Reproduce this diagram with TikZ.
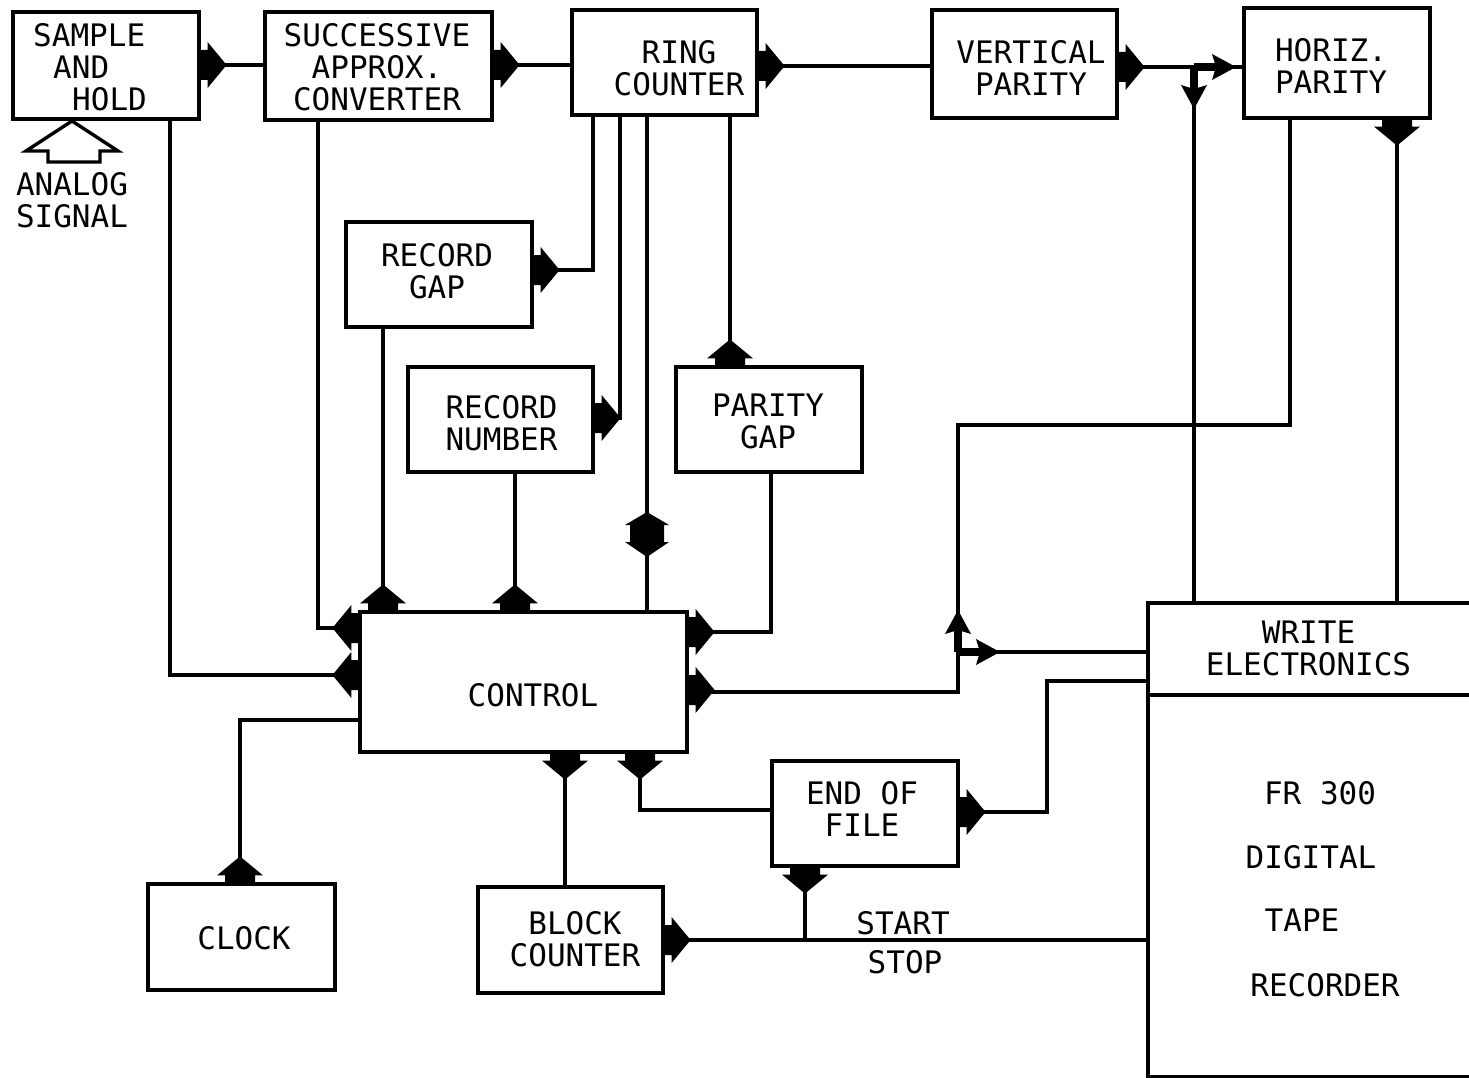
\documentclass[tikz,border=0pt]{standalone}
\usepackage{fontspec}
\setmainfont{DejaVu Sans Mono}
\usetikzlibrary{calc}
\begin{document}
\begin{tikzpicture}[x=1pt,y=-1pt,
  box/.style={draw, line width=3.2pt, inner sep=0pt},
  txt/.style={font=\fontsize{31}{32}\selectfont, align=center, inner sep=0pt},
  wire/.style={line width=3.1pt},
  pics/blk/.style={code={\fill (0,-15) -- (7,-15) -- (7,-23) -- (26,0) -- (7,23) -- (7,15) -- (0,15) -- cycle;}},
  pics/jarr/.style={code={\fill (0,-4) rectangle (21,4);
      \fill (18,-13) -- (42,0) -- (18,13) -- (22,0) -- cycle;}},
  pics/dbl/.style={code={\fill (0,-23) -- (22,-10) -- (17,-10) -- (17,7) -- (22,7) -- (0,22) -- (-22,7) -- (-17,7) -- (-17,-10) -- (-22,-10) -- cycle;}}
]
\useasboundingbox (0,0) rectangle (1469,1078);
\clip (0,0) rectangle (1469,1078);

% boxes
\node[box, minimum width=186pt, minimum height=107pt] (sah) at (106,65.5) {};
\node[box, minimum width=227pt, minimum height=108pt] (ssa) at (378.5,66) {};
\node[box, minimum width=185pt, minimum height=105pt] (ring) at (664.5,62.5) {};
\node[box, minimum width=185pt, minimum height=108pt] (vp) at (1024.5,64) {};
\node[box, minimum width=186pt, minimum height=110pt] (hp) at (1337,63) {};
\node[box, minimum width=186pt, minimum height=105pt] (rg) at (439,274.5) {};
\node[box, minimum width=185pt, minimum height=105pt] (rn) at (500.5,419.5) {};
\node[box, minimum width=186pt, minimum height=105pt] (pg) at (769,419.5) {};
\node[box, minimum width=327pt, minimum height=140pt] (ctl) at (523.5,682) {};
\node[box, minimum width=187pt, minimum height=106pt] (clk) at (241.5,937) {};
\node[box, minimum width=185pt, minimum height=106pt] (bc) at (570.5,940) {};
\node[box, minimum width=186pt, minimum height=105pt] (eof) at (865,813.5) {};
\node[box, minimum width=352pt, minimum height=92pt] (we) at (1324,649) {};
\node[box, minimum width=352pt, minimum height=382pt] (fr) at (1324,886) {};

% texts
\node[txt, align=left, anchor=west] (saht) at (33,67.5) {SAMPLE\\\hspace*{20pt}AND\\\hspace*{39pt}HOLD};
\node[txt] (ssat) at (377,67) {SUCCESSIVE\\APPROX.\\CONVERTER};
\node[txt] (ringt) at (679,68) {RING\\COUNTER};
\node[txt] (vpt) at (1031,67.5) {VERTICAL\\PARITY};
\node[txt] (hpt) at (1331,65.5) {HORIZ.\\PARITY};
\node[txt] (rgt) at (437,271) {RECORD\\GAP};
\node[txt] (rnt) at (501.5,423.5) {RECORD\\NUMBER};
\node[txt] (pgt) at (768,421.5) {PARITY\\GAP};
\node[txt] (ctlt) at (533,695) {CONTROL};
\node[txt] (clkt) at (244,938) {CLOCK};
\node[txt] (bct) at (575,939) {BLOCK\\COUNTER};
\node[txt] (eoft) at (862,809) {END OF\\FILE};
\node[txt] (wet) at (1308.5,648) {WRITE\\ELECTRONICS};
\node[txt] (fr1) at (1320,793) {FR 300};
\node[txt] (fr2) at (1311,857) {DIGITAL};
\node[txt] (fr3) at (1302,920) {TAPE};
\node[txt] (fr4) at (1325,985) {RECORDER};
\node[txt] (analog) at (72,200) {ANALOG\\SIGNAL};
\node[txt] (start) at (903,923) {START};
\node[txt] (stop) at (905,962) {STOP};

% analog input arrow (hollow)
\draw[line width=3.4pt, line join=miter] (72,121) -- (118,151) -- (100,151) -- (100,162) -- (48,162) -- (48,151) -- (26,151) -- cycle;

% junction coordinates
\coordinate (j1) at (1194,67);
\coordinate (j2) at (958,652);

% connectors
\draw[wire] (sah.east |- 0,65) -- (ssa.west |- 0,65);
\draw[wire] (ssa.east |- 0,65) -- (ring.west |- 0,65);
\draw[wire] (ring.east |- 0,66) -- (vp.west |- 0,66);
\draw[wire] (vp.east |- 0,67) -- (hp.west |- 0,67);
\draw[wire] (j1) -- (j1 |- we.north);
\draw[wire] (1290,0 |- hp.south) -- (1290,425) -- (958,425) -- (958,692) -- (ctl.east |- 0,692);
\draw[wire] (j2) -- (we.west |- j2);
\draw[wire] (1397,0 |- hp.south) -- (1397,0 |- we.north);
\draw[wire] (ctl.east |- 0,632) -- (771,632) -- (771,0 |- pg.south);
\draw[wire] (730,0 |- ring.south) -- (730,0 |- pg.north);
\draw[wire] (593,0 |- ring.south) -- (593,270) -- (rg.east |- 0,270);
\draw[wire] (620,0 |- ring.south) -- (620,418) -- (rn.east |- 0,418);
\draw[wire] (647,0 |- ring.south) -- (647,0 |- ctl.north);
\draw[wire] (383,0 |- rg.south) -- (383,0 |- ctl.north);
\draw[wire] (515,0 |- rn.south) -- (515,0 |- ctl.north);
\draw[wire] (318,0 |- ssa.south) -- (318,628) -- (ctl.west |- 0,628);
\draw[wire] (170,0 |- sah.south) -- (170,675) -- (ctl.west |- 0,675);
\draw[wire] (ctl.west |- 0,720) -- (240,720) -- (240,0 |- clk.north);
\draw[wire] (565,0 |- ctl.south) -- (565,0 |- bc.north);
\draw[wire] (640,0 |- ctl.south) -- (640,810) -- (eof.west |- 0,810);
\draw[wire] (eof.east |- 0,812) -- (1047,812) -- (1047,681) -- (we.west |- 0,681);
\draw[wire] (bc.east |- 0,940) -- (fr.west |- 0,940);
\draw[wire] (805,0 |- eof.south) -- (805,940);

% block arrowheads
\pic at (sah.east |- 0,65) {blk};
\pic at (ssa.east |- 0,65) {blk};
\pic at (ring.east |- 0,66) {blk};
\pic at (vp.east |- 0,67) {blk};
\pic[rotate=-90] at (1397,0 |- hp.south) {blk};
\pic[rotate=90] at (730,0 |- pg.north) {blk};
\pic at (rg.east |- 0,270) {blk};
\pic at (rn.east |- 0,418) {blk};
\pic[rotate=90] at (383,0 |- ctl.north) {blk};
\pic[rotate=90] at (515,0 |- ctl.north) {blk};
\pic[rotate=180] at (ctl.west |- 0,628) {blk};
\pic[rotate=180] at (ctl.west |- 0,675) {blk};
\pic at (ctl.east |- 0,632) {blk};
\pic at (ctl.east |- 0,690) {blk};
\pic[rotate=-90] at (565,0 |- ctl.south) {blk};
\pic[rotate=-90] at (640,0 |- ctl.south) {blk};
\pic[rotate=90] at (240,0 |- clk.north) {blk};
\pic at (eof.east |- 0,812) {blk};
\pic[rotate=-90] at (805,0 |- eof.south) {blk};
\pic at (bc.east |- 0,940) {blk};
\pic at (647,535) {dbl};

% junction arrows
\pic at (j1) {jarr};
\pic[rotate=-90] at (j1) {jarr};
\pic at (j2) {jarr};
\pic[rotate=90] at (j2) {jarr};
\end{tikzpicture}
\end{document}
